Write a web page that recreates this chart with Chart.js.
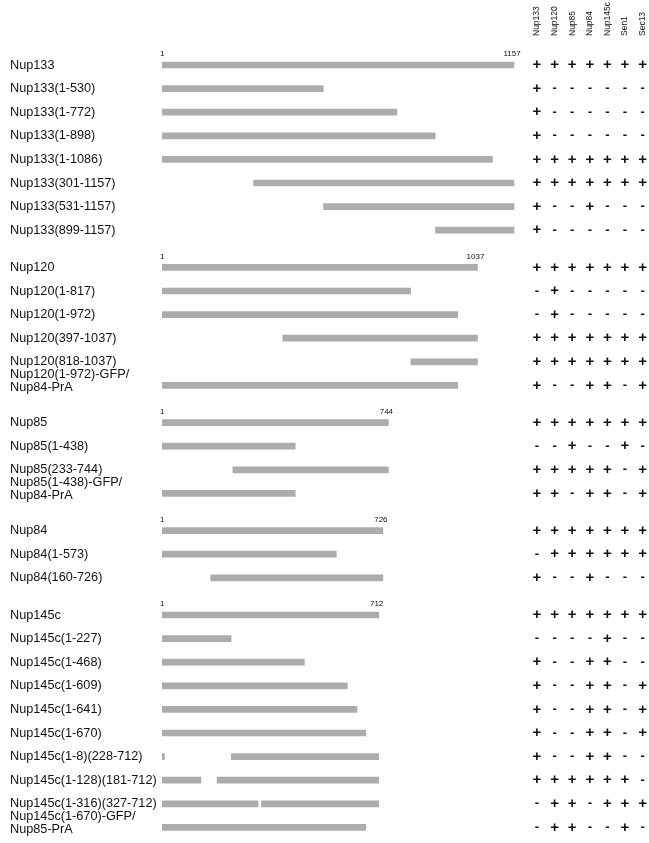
<!DOCTYPE html>
<html>
<head>
<meta charset="utf-8">
<script src="https://cdn.jsdelivr.net/npm/chart.js@4.4.0/dist/chart.umd.min.js"></script>
<style>
  html, body { margin: 0; padding: 0; background: #ffffff; }
  #wrap { width: 649px; height: 843px; position: relative; }
</style>
</head>
<body>
<div id="wrap"><canvas id="chart"></canvas></div>
<script>
// Interaction partners tested (table columns)
const partners = ['Nup133', 'Nup120', 'Nup85', 'Nup84', 'Nup145c', 'Sen1', 'Sec13'];

// Nup133 constructs
const nup133Names = ['Nup133', 'Nup133(1-530)', 'Nup133(1-772)', 'Nup133(1-898)',
  'Nup133(1-1086)', 'Nup133(301-1157)', 'Nup133(531-1157)', 'Nup133(899-1157)'];
const nup133Segments = [[[1, 1157]], [[1, 530]], [[1, 772]], [[1, 898]],
  [[1, 1086]], [[301, 1157]], [[531, 1157]], [[899, 1157]]];
const nup133Binding = ['+++++++', '+------', '+------', '+------',
  '+++++++', '+++++++', '+--+---', '+------'];

// Nup120 constructs
const nup120Names = ['Nup120', 'Nup120(1-817)', 'Nup120(1-972)', 'Nup120(397-1037)',
  'Nup120(818-1037)', ['Nup120(1-972)-GFP/', 'Nup84-PrA']];
const nup120Segments = [[[1, 1037]], [[1, 817]], [[1, 972]], [[397, 1037]],
  [[818, 1037]], [[1, 972]]];
const nup120Binding = ['+++++++', '-+-----', '-+-----', '+++++++',
  '+++++++', '+--++-+'];

// Nup85 constructs
const nup85Names = ['Nup85', 'Nup85(1-438)', 'Nup85(233-744)', ['Nup85(1-438)-GFP/', 'Nup84-PrA']];
const nup85Segments = [[[1, 744]], [[1, 438]], [[233, 744]], [[1, 438]]];
const nup85Binding = ['+++++++', '--+--+-', '+++++-+', '++-++-+'];

// Nup84 constructs
const nup84Names = ['Nup84', 'Nup84(1-573)', 'Nup84(160-726)'];
const nup84Segments = [[[1, 726]], [[1, 573]], [[160, 726]]];
const nup84Binding = ['+++++++', '-++++++', '+--+---'];

// Nup145c constructs
const nup145cNames = ['Nup145c', 'Nup145c(1-227)', 'Nup145c(1-468)', 'Nup145c(1-609)',
  'Nup145c(1-641)', 'Nup145c(1-670)', 'Nup145c(1-8)(228-712)', 'Nup145c(1-128)(181-712)',
  'Nup145c(1-316)(327-712)', ['Nup145c(1-670)-GFP/', 'Nup85-PrA']];
const nup145cSegments = [[[1, 712]], [[1, 227]], [[1, 468]], [[1, 609]],
  [[1, 641]], [[1, 670]], [[1, 8], [228, 712]], [[1, 128], [181, 712]],
  [[1, 316], [327, 712]], [[1, 670]]];
const nup145cBinding = ['+++++++', '----+--', '+--++--', '+--++-+',
  '+--++-+', '+--++-+', '+--++--', '++++++-',
  '-++-+++', '-++--+-'];

const groups = [
  { names: nup133Names, segments: nup133Segments, binding: nup133Binding },
  { names: nup120Names, segments: nup120Segments, binding: nup120Binding },
  { names: nup85Names, segments: nup85Segments, binding: nup85Binding },
  { names: nup84Names, segments: nup84Segments, binding: nup84Binding },
  { names: nup145cNames, segments: nup145cSegments, binding: nup145cBinding }
];

// ---- layout ----
const W = 649, H = 843;
const FONT = "'Liberation Sans', Arial, Helvetica, sans-serif";
const ROW_PX = 23.6;          // distance between rows inside a group
const GROUP_PX = 37.2;        // distance between last row of a group and next group
const FIRST_ROW_Y = 65;       // pixel centre of the first construct
const HEADER_H = 42;          // height of the rotated column header band
const PLOT_LEFT = 162;        // x where residue 0 sits
const PAD_LEFT = 10;
const RES_PX = (514 - PLOT_LEFT) / 1157;   // pixels per residue
const COL0_X = 537, COL_STEP = 17.6;        // table column placement

// row positions in row units
const rows = [];
let pos = 0;
groups.forEach((g, gi) => {
  if (gi > 0) pos += GROUP_PX / ROW_PX;
  g.names.forEach((name, ri) => {
    if (ri > 0) pos += 1;
    rows.push({ pos, name, segments: g.segments[ri], binding: g.binding[ri], first: ri === 0 });
  });
});

// two-line labels sit slightly higher than their bar
const rowTicks = rows.map(r => ({
  value: Array.isArray(r.name) ? r.pos - 0.17 : r.pos,
  label: r.name
}));

const barData = [];
rows.forEach(r => r.segments.forEach(s => barData.push({ y: r.pos, x: [s[0], s[1]] })));

const plotW = W - PLOT_LEFT;
const plotH = H - HEADER_H;
const yMin = -(FIRST_ROW_Y - HEADER_H) / ROW_PX;
const yMax = yMin + plotH / ROW_PX;
const xMax = plotW / RES_PX;
const colMin = -(COL0_X - PLOT_LEFT) / COL_STEP;
const colMax = colMin + plotW / COL_STEP;

// column headers, +/- table and residue numbers above the full-length bars
const annotate = {
  id: 'annotate',
  afterDatasetsDraw(chart) {
    const { ctx } = chart;
    const xs = chart.scales.x, xt = chart.scales.xt, ys = chart.scales.y;
    ctx.save();
    ctx.fillStyle = '#111';

    // rotated headers, reading bottom to top
    ctx.font = '8.5px ' + FONT;
    ctx.textAlign = 'left';
    ctx.textBaseline = 'middle';
    partners.forEach((p, ci) => {
      ctx.save();
      ctx.translate(xt.getPixelForValue(ci), chart.chartArea.top - 6);
      ctx.rotate(-Math.PI / 2);
      ctx.fillText(p, 0, 0);
      ctx.restore();
    });

    ctx.textAlign = 'center';
    rows.forEach(r => {
      const py = ys.getPixelForValue(r.pos);
      r.binding.split('').forEach((c, ci) => {
        const px = xt.getPixelForValue(ci);
        if (c === '+') {
          ctx.font = 'bold 15px ' + FONT;
          ctx.fillText('+', px, py);
        } else {
          ctx.font = 'bold 13px ' + FONT;
          ctx.fillText('-', px, py);
        }
      });
      if (r.first) {
        const s = r.segments[0];
        ctx.font = '8px ' + FONT;
        ctx.fillText(String(s[0]), xs.getPixelForValue(s[0]), py - 11);
        ctx.fillText(String(s[1]), xs.getPixelForValue(s[1]) - 2, py - 11);
      }
    });
    ctx.restore();
  }
};

new Chart(document.getElementById('chart'), {
  type: 'bar',
  data: {
    datasets: [{
      label: 'Construct',
      data: barData,
      backgroundColor: '#acacac',
      borderWidth: 0,
      barThickness: 6,
      grouped: false
    }]
  },
  options: {
    indexAxis: 'y',
    responsive: true,
    maintainAspectRatio: false,
    animation: false,
    layout: { padding: { left: PAD_LEFT, right: 0, top: HEADER_H, bottom: 0 } },
    plugins: { legend: { display: false }, tooltip: { enabled: false } },
    scales: {
      x: { type: 'linear', min: 0, max: xMax, display: false },
      xt: { type: 'linear', position: 'top', min: colMin, max: colMax, display: false },
      y: {
        type: 'linear', reverse: true, offset: false, min: yMin, max: yMax,
        grid: { display: false, drawTicks: false, offset: false },
        border: { display: false },
        afterBuildTicks: s => { s.ticks = rowTicks.map(t => ({ value: t.value })); },
        ticks: {
          autoSkip: false, crossAlign: 'far', padding: 0,
          color: '#111', font: { family: FONT, size: 12.7, lineHeight: 1.02 },
          callback: (v, i) => rowTicks[i].label
        },
        afterFit: s => { s.width = PLOT_LEFT - PAD_LEFT; s.paddingTop = 0; s.paddingBottom = 0; }
      }
    }
  },
  plugins: [annotate]
});
</script>
</body>
</html>
